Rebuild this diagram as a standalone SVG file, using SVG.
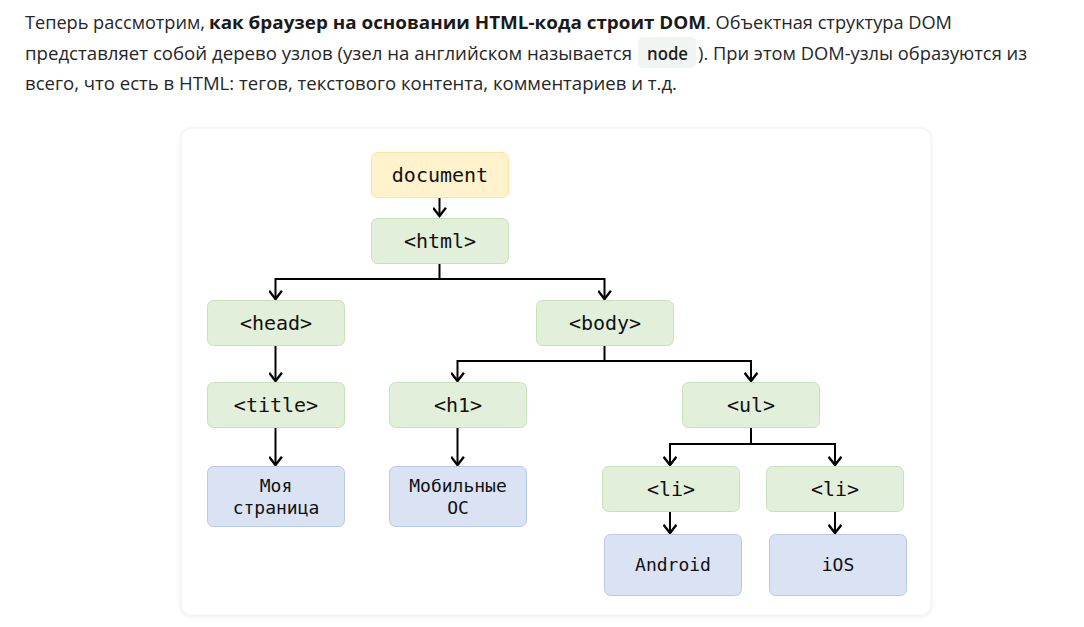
<svg xmlns="http://www.w3.org/2000/svg" width="1084" height="627" viewBox="0 0 1084 627">
<defs>
<style>
.p{font-family:"Open Sans","Noto Sans","Liberation Sans",sans-serif;font-size:18px;fill:#262626}
.b{font-weight:bold;fill:#1a1a1a}
.code{font-family:"Open Sans","Noto Sans",sans-serif;font-size:18px;fill:#1f1f1f;font-weight:600}
.t{font-family:"DejaVu Sans Mono","Liberation Mono",monospace;font-size:20px;fill:#111;text-anchor:middle}
.s{font-family:"DejaVu Sans Mono","Liberation Mono",monospace;font-size:18px;fill:#111;text-anchor:middle}
.g{fill:#e2efda;stroke:#c8e2b8;stroke-width:1}
.y{fill:#fff2cc;stroke:#ffe59a;stroke-width:1}
.bl{fill:#dae3f3;stroke:#b8c9e6;stroke-width:1}
.c{fill:none;stroke:#000;stroke-width:2}
</style>
<marker id="ah" markerUnits="userSpaceOnUse" markerWidth="14" markerHeight="14" refX="10" refY="6" orient="auto" viewBox="0 0 12 12">
<path d="M3,0.5 L10,6 L3,11.5" fill="none" stroke="#000" stroke-width="2"/>
</marker>
<filter id="sh" x="-5%" y="-5%" width="110%" height="110%">
<feDropShadow dx="0" dy="1" stdDeviation="2" flood-color="#000" flood-opacity="0.08"/>
</filter>
</defs>
<rect width="1084" height="627" fill="#fff"/>
<g id="paragraph">
<text class="p" x="25" y="29" textLength="180" lengthAdjust="spacingAndGlyphs">Теперь рассмотрим,</text>
<text class="p b" x="209" y="29" textLength="497" lengthAdjust="spacingAndGlyphs">как браузер на основании HTML-кода строит DOM</text>
<text class="p" x="706" y="29" textLength="246" lengthAdjust="spacingAndGlyphs">. Объектная структура DOM</text>
<text class="p" x="25" y="59.5" textLength="607" lengthAdjust="spacingAndGlyphs">представляет собой дерево узлов (узел на английском называется</text>
<rect x="638" y="37" width="58" height="31" rx="5" fill="#f1f5f1"/>
<text class="code" x="647" y="59.5" textLength="41" lengthAdjust="spacingAndGlyphs">node</text>
<text class="p" x="698" y="59.5" textLength="329" lengthAdjust="spacingAndGlyphs">). При этом DOM-узлы образуются из</text>
<text class="p" x="25" y="90" textLength="652" lengthAdjust="spacingAndGlyphs">всего, что есть в HTML: тегов, текстового контента, комментариев и т.д.</text>
</g>
<rect id="card" x="181" y="128" width="750" height="487" rx="10" fill="#fff" stroke="#f0f0f0" filter="url(#sh)"/>
<g id="connectors">
<path class="c" d="M439.5,197 V216" marker-end="url(#ah)"/>
<path class="c" d="M439.5,263 V279 H275.5 V299" marker-end="url(#ah)"/>
<path class="c" d="M439.5,279 H604.5 V299" marker-end="url(#ah)"/>
<path class="c" d="M275.5,346 V381" marker-end="url(#ah)"/>
<path class="c" d="M275.5,427 V465" marker-end="url(#ah)"/>
<path class="c" d="M604.5,345 V361 H457.5 V381" marker-end="url(#ah)"/>
<path class="c" d="M604.5,361 H751 V381" marker-end="url(#ah)"/>
<path class="c" d="M457.5,428 V465" marker-end="url(#ah)"/>
<path class="c" d="M751,427 V444 H670 V465" marker-end="url(#ah)"/>
<path class="c" d="M751,444 H835 V465" marker-end="url(#ah)"/>
<path class="c" d="M670,511 V533" marker-end="url(#ah)"/>
<path class="c" d="M835,511 V533" marker-end="url(#ah)"/>
</g>
<g id="n-document"><rect class="y" x="371.5" y="152.5" width="137" height="45" rx="6"/><text class="t" x="440" y="182">document</text></g>
<g id="n-html"><rect class="g" x="371.5" y="218.5" width="137" height="45" rx="6"/><text class="t" x="440" y="248">&lt;html&gt;</text></g>
<g id="n-head"><rect class="g" x="207.5" y="300.5" width="137" height="45" rx="6"/><text class="t" x="276" y="330">&lt;head&gt;</text></g>
<g id="n-body"><rect class="g" x="536.5" y="300.5" width="137" height="45" rx="6"/><text class="t" x="605" y="330">&lt;body&gt;</text></g>
<g id="n-title"><rect class="g" x="207.5" y="382.5" width="137" height="45" rx="6"/><text class="t" x="276" y="412">&lt;title&gt;</text></g>
<g id="n-h1"><rect class="g" x="389.5" y="382.5" width="137" height="45" rx="6"/><text class="t" x="458" y="412">&lt;h1&gt;</text></g>
<g id="n-ul"><rect class="g" x="682.5" y="382.5" width="137" height="45" rx="6"/><text class="t" x="751" y="412">&lt;ul&gt;</text></g>
<g id="n-mytitle"><rect class="bl" x="207.5" y="466.5" width="137" height="60" rx="6"/><text class="s" x="276" y="492">Моя</text><text class="s" x="276" y="514">страница</text></g>
<g id="n-mobile"><rect class="bl" x="389.5" y="466.5" width="137" height="60" rx="6"/><text class="s" x="458" y="492">Мобильные</text><text class="s" x="458" y="514">ОС</text></g>
<g id="n-li1"><rect class="g" x="602.5" y="466.5" width="137" height="45" rx="6"/><text class="t" x="671" y="496">&lt;li&gt;</text></g>
<g id="n-li2"><rect class="g" x="766.5" y="466.5" width="137" height="45" rx="6"/><text class="t" x="835" y="496">&lt;li&gt;</text></g>
<g id="n-android"><rect class="bl" x="604.5" y="534.5" width="137" height="61" rx="6"/><text class="s" x="673" y="571">Android</text></g>
<g id="n-ios"><rect class="bl" x="769.5" y="534.5" width="137" height="61" rx="6"/><text class="s" x="838" y="571">iOS</text></g>
</svg>
